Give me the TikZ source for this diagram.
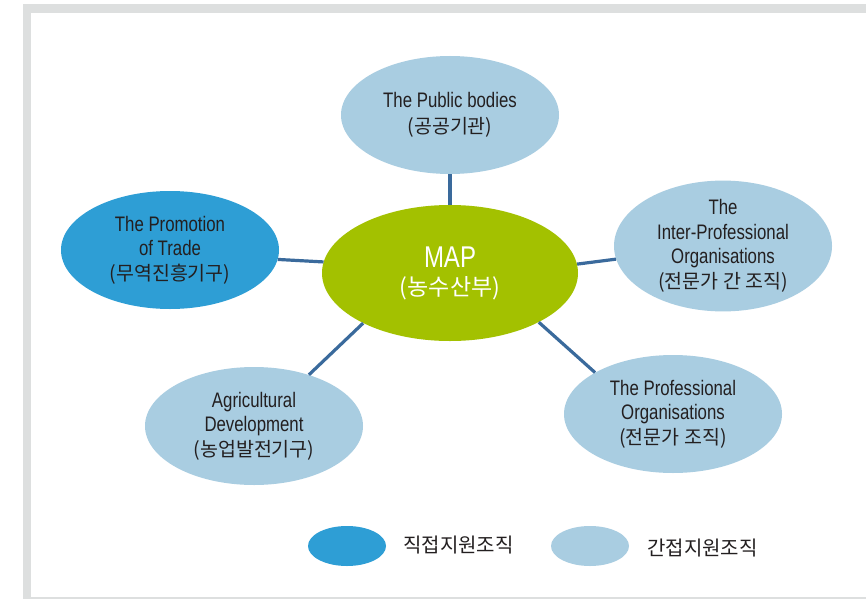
\documentclass[tikz,border=0pt]{standalone}
\usepackage{fontspec}
\setmainfont{Liberation Sans}[FakeStretch=0.8]
\newfontfamily\kor{Noto Sans CJK KR}
\usetikzlibrary{shapes.geometric}
\definecolor{paleblue}{HTML}{A9CDE1}
\definecolor{deepblue}{HTML}{2E9ED5}
\definecolor{mapgreen}{HTML}{A3C100}
\definecolor{linkblue}{HTML}{3A6A9C}
\definecolor{framegray}{HTML}{DDDFDF}
\definecolor{inkgray}{HTML}{231F20}
\newcommand{\korline}[1]{{\kor\fontsize{19.5}{22}\selectfont #1}}
\tikzset{
  org/.style={ellipse, fill=paleblue, minimum width=218pt, minimum height=118pt,
    inner sep=0pt, align=center, text=inkgray, font=\fontsize{21}{24.5}\selectfont},
  directorg/.style={org, fill=deepblue},
  ministry/.style={ellipse, fill=mapgreen, minimum width=256pt, minimum height=136pt,
    inner sep=0pt, align=center, text=white, font=\fontsize{30}{32}\selectfont},
  link/.style={draw=linkblue, line width=3.2pt},
  legendmark/.style={ellipse, minimum width=78pt, minimum height=40pt, inner sep=0pt},
  legendtext/.style={anchor=west, inner sep=0pt, text=inkgray, font=\kor\fontsize{20}{22}\selectfont}
}
\begin{document}
\begin{tikzpicture}[x=1pt,y=-1pt]
            \useasboundingbox (0,0) rectangle (866,599);
            % frame
            \fill[framegray] (23,4) rectangle (866,599);
            \fill[white] (31,13) rectangle (866,597);

            \node[ministry] (map) at (450,273) {MAP\\[-4pt]{\kor\fontsize{23}{25}\selectfont (농수산부)}};
            \node[org] (public) at (450,115) {The Public bodies\\[1pt]\korline{(공공기관)}};
            \node[directorg] (promo) at (170,250) {The Promotion\\of Trade\\[0pt]\korline{(무역진흥기구)}};
            \node[org] (inter) at (723,246) {The\\Inter-Professional\\Organisations\\[0pt]\korline{(전문가 간 조직)}};
            \node[org] (prof) at (673,414) {The Professional\\Organisations\\[0pt]\korline{(전문가 조직)}};
            \node[org] (agri) at (254,426) {Agricultural\\Development\\[0pt]\korline{(농업발전기구)}};

            \path[link] (public) -- (map);
            \path[link] (promo.-5) -- (map.175);
            \path[link] (map.4) -- (inter.187);
            \path[link] (agri.43) -- (map.210);
            \path[link] (map.-29) -- (prof.152);

            % legend
            \node[legendmark, fill=deepblue] (legdirect) at (347,546) {};
            \node[legendtext] (legdirecttext) at (403,545) {직접지원조직};
            \node[legendmark, fill=paleblue] (legindirect) at (590,546) {};
            \node[legendtext] (legindirecttext) at (647,548) {간접지원조직};

        \end{tikzpicture}
\end{document}
